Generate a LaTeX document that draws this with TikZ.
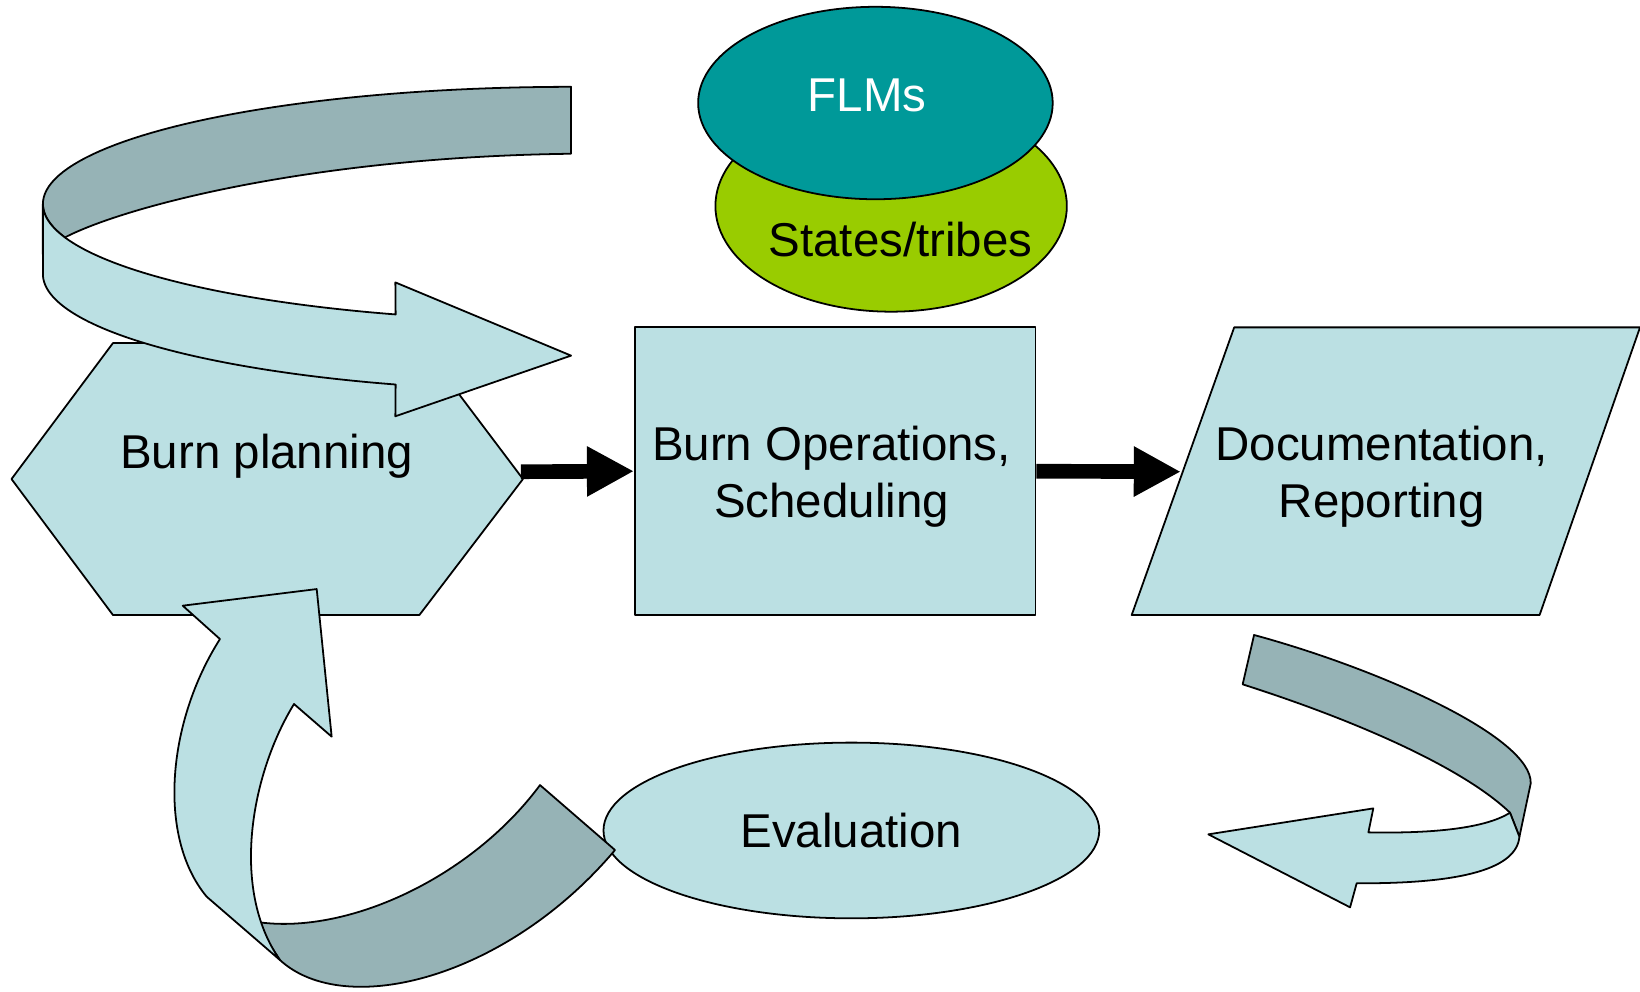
\documentclass[tikz,border=0pt]{standalone}
\usepackage{fontspec}
\setmainfont{Liberation Sans}
\usetikzlibrary{arrows.meta,shapes.geometric}
\definecolor{lightband}{RGB}{187,224,227}
\definecolor{darkband}{RGB}{150,179,182}
\definecolor{flmteal}{RGB}{0,153,153}
\definecolor{stategreen}{RGB}{153,204,0}
\begin{document}
\begin{tikzpicture}[x=0.5pt,y=-0.5pt,
  outline/.style={draw=black, line width=0.85pt, line join=round},
  lightfill/.style={outline, fill=lightband},
  darkfill/.style={outline, fill=darkband},
  labeltext/.style={font=\fontsize{22.7}{27.5}\selectfont, align=center, inner sep=0pt},
  flowarrow/.style={line width=7pt, -{Triangle[length=22.5pt,width=22.5pt]}},
  ellipsenode/.style={ellipse, outline, inner sep=0pt}]
\useasboundingbox (0,0) rectangle (1568,948);

% ---- Burn planning hexagon
\filldraw[lightfill] (11,458) -- (108,328) -- (402,328) -- (500,458) -- (401,588) -- (108,588) -- cycle;
\coordinate (plan-e) at (498,451);
\node[labeltext, anchor=base] (plantext) at (255,448) {Burn planning};

% ---- Burn operations rectangle
\node[lightfill, rectangle, minimum width=191.5pt, minimum height=137.5pt, inner sep=0pt] (ops) at (798.5,450.5) {};
\node[labeltext] (opstext) at (795,456) {Burn Operations,\\Scheduling};

% ---- Documentation parallelogram
\filldraw[lightfill] (1180,313) -- (1568,313) -- (1472,588) -- (1082,588) -- cycle;
\coordinate (docs-w) at (1129,451);
\node[labeltext] (docstext) at (1321,456) {Documentation,\\Reporting};

% ---- flow arrows
\draw[flowarrow] (plan-e) -- (ops.west);
\draw[flowarrow] (ops.east) -- (docs-w);

% ---- States/tribes and FLMs ellipses
\node[ellipsenode, fill=stategreen, minimum width=168pt, minimum height=101pt] (states) at (852,197) {};
\node[labeltext, anchor=base] (statestext) at (861,245) {States/tribes};
\node[ellipsenode, fill=flmteal, minimum width=169.5pt, minimum height=92pt] (flms) at (837,98.5) {};
\node[labeltext, anchor=base, text=white] (flmstext) at (829,107) {FLMs};

% ---- Evaluation ellipse
\node[ellipsenode, fill=lightband, minimum width=237pt, minimum height=84pt] (eval) at (814,794) {};
\node[labeltext, anchor=base] (evaltext) at (814,810) {Evaluation};

% ---- top curved arrow (loop back into Burn planning)
\filldraw[darkfill] (546,83)
  -- plot[domain=270:163.4, samples=60, variable=\t] ({546+505*cos(\t)},{195+112*sin(\t)})
  .. controls (120,197) and (300,150) .. (546,147) -- cycle;
\filldraw[lightfill] (41,195)
  -- plot[domain=180:109.4, samples=60, variable=\t] ({546+505*cos(\t)},{195+112*sin(\t)})
  -- (378,270) -- (546,340) -- (378,398)
  -- plot[domain=109.4:180, samples=60, variable=\t] ({546+505*cos(\t)},{262+112*sin(\t)})
  -- cycle;

% ---- bottom-left curved arrow (Evaluation -> Burn planning)
\filldraw[darkfill] (516.3,750.6) -- (588,812.7)
  .. controls (485,935) and (330,975) .. (267.7,917.9)
  -- (243.8,881.2)
  .. controls (330,895) and (450,840) .. (516.3,750.6) -- cycle;
\filldraw[lightfill] (210.3,611) -- (174.7,579.1) -- (302.8,563.2) -- (317.1,704.3) -- (281.1,673.1)
  .. controls (240,740) and (220,850) .. (267.7,917.9)
  -- (197.6,857.3)
  .. controls (150,800) and (160,690) .. (210.3,611) -- cycle;

% ---- bottom-right curved arrow (Documentation -> Evaluation)
\filldraw[darkfill] (1199,607.1)
  .. controls (1320,640) and (1465,705) .. (1463.5,749)
  -- (1452.7,800) -- (1443.7,777)
  .. controls (1400,735) and (1300,690) .. (1188.1,654.3) -- cycle;
\filldraw[lightfill] (1443.7,777)
  .. controls (1420,792) and (1370,797) .. (1308.3,795.8)
  -- (1313,772.9) -- (1155.3,797.7) -- (1290.8,867.5) -- (1297.1,844.5)
  .. controls (1400,845) and (1450,830) .. (1452.7,800) -- cycle;
\end{tikzpicture}
\end{document}
